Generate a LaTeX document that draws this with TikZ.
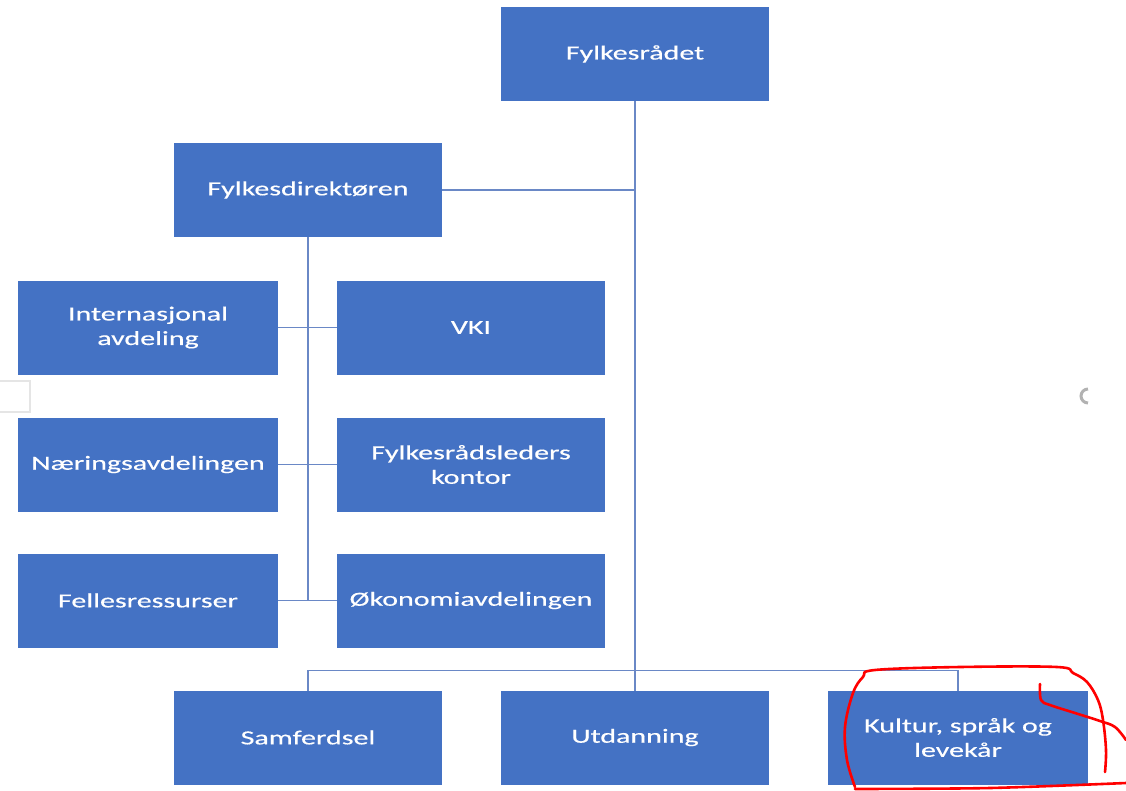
\documentclass[tikz,border=0pt]{standalone}
\usepackage{fontspec}
\setmainfont{Carlito}[FakeStretch=1.5, FakeBold=0.4]
\usepackage{tikz}
\usetikzlibrary{positioning}
\definecolor{unitblue}{HTML}{4472C4}
\definecolor{linkblue}{HTML}{6A88C6}
\tikzset{
	node distance = 59pt,
	font = \fontsize{20}{24.5}\selectfont,
	unit/.style={
		fill=unitblue,
		text=white,
		align=center,
		minimum width=268pt,
		minimum height=94pt,
		inner sep=0pt,
		outer sep=0pt
	},
	narrow unit/.style={
		unit,
		minimum width=260pt
	},
	link/.style={
		draw=linkblue,
		line width=1.4pt
	},
	scribble/.style={
		draw=red,
		line width=2.6pt,
		line cap=round,
		line join=round
	}
}

\begin{document}
\begin{tikzpicture}[x=1pt, y=-1pt]
	\useasboundingbox (0,0) rectangle (1126,790);
		\node[unit] (raadet) at (635,54) {Fylkesrådet};
\node[unit, below left = 42pt and 59pt of raadet] (direktor) {Fylkesdirektøren};
\node[narrow unit] (intl) at (148,327.5) {Internasjonal\\avdeling};
\node[unit, right = 59pt of intl] (vki) {VKI};
\node[narrow unit, below = 43pt of intl] (naering) {Næringsavdelingen};
\node[unit, right = 59pt of naering] (leder) {Fylkesrådsleders\\kontor};
\node[narrow unit, below = 42pt of naering] (felles) {Fellesressurser};
\node[unit, right = 59pt of felles] (okonomi) {Økonomiavdelingen};
\node[unit] (utd) at (635,737.5) {Utdanning};
\node[unit, left = 59pt of utd] (samf) {Samferdsel};
\node[narrow unit, right = 59pt of utd] (kultur) {Kultur, språk og\\levekår};
\coordinate[above = 20pt of utd.north] (bus);

\draw[link] (raadet.south) -- (utd.north);
\draw[link] (direktor.east) -- (direktor.east -| raadet.south);
\draw[link] (direktor.south) -- (direktor.south |- felles.east);
\draw[link] (intl.east) -- (vki.west);
\draw[link] (naering.east) -- (leder.west);
\draw[link] (felles.east) -- (okonomi.west);
\draw[link] (samf.north) |- (bus) -| (kultur.north);

\draw[scribble] plot[smooth, tension=0.6] coordinates {(855,787) (847,760) (845,727) (853,693) (863,677) (875,670) (960,667) (1057,667) (1073,673) (1087,682) (1098,700) (1103,720) (1106,750) (1105,772)};
\draw[scribble] plot[smooth] coordinates {(855,789) (990,788) (1126,783)};
\draw[scribble] plot[smooth, tension=0.6] coordinates {(1040,684) (1041,700) (1050,705) (1075,713) (1100,721) (1115,727) (1126,740)};

\draw[gray!20, line width=1.5pt] (-2,381) -- (30,381) -- (30,412) -- (-2,412);
\draw[gray!60, line width=3pt] (1088,389) arc[start angle=90, end angle=270, radius=7pt];
	\end{tikzpicture}
\end{document}
